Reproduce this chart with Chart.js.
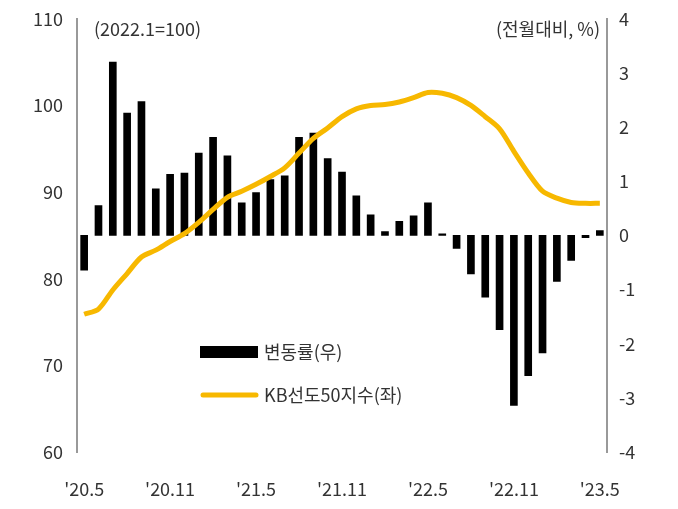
<!DOCTYPE html>
<html><head><meta charset="utf-8">
<script src="https://cdn.jsdelivr.net/npm/chart.js@4"></script>
<style>html,body{margin:0;padding:0;background:#fff}#w{width:678px;height:509px}</style>
</head><body><div id="w"><canvas id="c"></canvas></div>
<script>
const months = ["'20.5","'20.6","'20.7","'20.8","'20.9","'20.10","'20.11","'20.12","'21.1","'21.2","'21.3","'21.4","'21.5","'21.6","'21.7","'21.8","'21.9","'21.10","'21.11","'21.12","'22.1","'22.2","'22.3","'22.4","'22.5","'22.6","'22.7","'22.8","'22.9","'22.10","'22.11","'22.12","'23.1","'23.2","'23.3","'23.4","'23.5"];
const changeRate = [-0.64,0.55,3.2,2.26,2.47,0.86,1.13,1.15,1.52,1.81,1.47,0.6,0.79,1.03,1.10,1.81,1.89,1.42,1.17,0.73,0.38,0.07,0.26,0.36,0.6,0.03,-0.24,-0.71,-1.14,-1.74,-3.14,-2.59,-2.17,-0.85,-0.46,-0.04,0.09];
const kbIndex = [75.9,76.5,78.7,80.6,82.5,83.3,84.3,85.2,86.5,88.0,89.4,90.1,90.9,91.8,92.8,94.5,96.2,97.4,98.7,99.6,100.0,100.1,100.4,100.9,101.5,101.4,100.9,100.0,98.7,97.3,94.7,92.2,90.1,89.3,88.8,88.7,88.7];
const shownTicks = ["'20.5","'20.11","'21.5","'21.11","'22.5","'22.11","'23.5"];
const leftTitle = "(2022.1=100)", rightTitle = "(전월대비, %)";
const barName = "변동률(우)", lineName = "KB선도50지수(좌)";
const FONT = "'Noto Sans CJK KR','Noto Sans',sans-serif";
const gold = "#F7B800", txt = "#333";

const textPlugin = {
  id:'txt',
  afterDraw(ch){
    const c = ch.ctx; c.save();
    c.font = "18px " + FONT; c.fillStyle = txt; c.textBaseline = "middle";
    c.textAlign = "left"; c.fillText(leftTitle, 94, 29);
    c.textAlign = "right"; c.fillText(rightTitle, 600, 29);
    c.fillStyle = "#000"; c.fillRect(200, 346, 58, 12);
    c.strokeStyle = gold; c.lineWidth = 5; c.lineCap = "round";
    c.beginPath(); c.moveTo(203, 395); c.lineTo(256, 395); c.stroke();
    c.fillStyle = txt; c.textAlign = "left";
    c.fillText(barName, 264, 352);
    c.fillText(lineName, 264, 395);
    c.restore();
  }
};

new Chart(document.getElementById('c'), {
  data: {
    labels: months,
    datasets: [
      {type:'line', label:lineName, data:kbIndex, yAxisID:'yL', borderColor:gold, borderWidth:5, pointRadius:0, tension:0.3, order:0},
      {type:'bar', label:barName, data:changeRate, yAxisID:'yR', backgroundColor:'#000', barThickness:7, order:1}
    ]
  },
  options: {
    responsive:true, maintainAspectRatio:false, animation:false,
    layout:{padding:{top:11,right:0,left:0,bottom:0}},
    plugins:{legend:{display:false}, tooltip:{enabled:false}},
    scales:{
      x:{
        offset:true,
        grid:{display:false, drawTicks:false},
        border:{display:false},
        ticks:{autoSkip:false, maxRotation:0, color:txt, font:{size:18, family:FONT}, padding:26,
          callback:function(v){const l=this.getLabelForValue(v); return shownTicks.includes(l)?l:'';}},
        afterFit(s){s.height=57;}
      },
      yL:{
        position:'left', min:60, max:110,
        ticks:{stepSize:10, color:txt, font:{size:18, family:FONT}, padding:8},
        grid:{display:false, drawOnChartArea:false, drawTicks:true, tickLength:6, color:'#999'},
        border:{color:'#999', width:2},
        afterFit(s){s.width=77;}
      },
      yR:{
        position:'right', min:-4, max:4,
        ticks:{stepSize:1, color:txt, font:{size:18, family:FONT}, padding:6},
        grid:{display:false, drawOnChartArea:false, drawTicks:true, tickLength:6, color:'#999'},
        border:{color:'#999', width:2},
        afterFit(s){s.width=71;}
      }
    }
  },
  plugins:[textPlugin]
});
</script></body></html>
